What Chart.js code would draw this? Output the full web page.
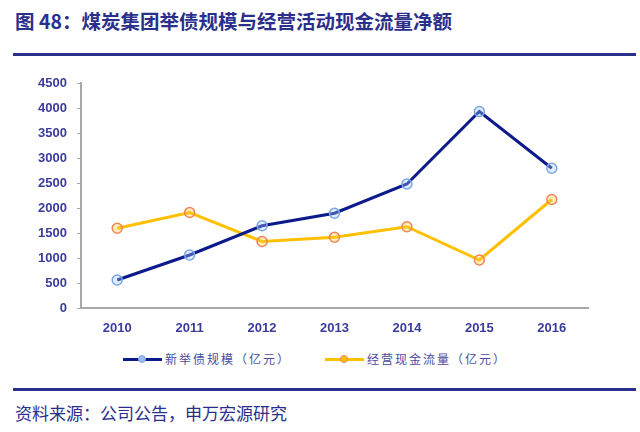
<!DOCTYPE html>
<html>
<head>
<meta charset="utf-8">
<script src="https://cdn.jsdelivr.net/npm/chart.js@4"></script>
<style>
  body { margin: 0; background: #fff; }
  #page { position: relative; width: 640px; height: 432px; overflow: hidden; }
  .title { position: absolute; left: 15px; top: 6px; font: bold 19.5px "Noto Sans CJK SC", sans-serif; color: #2b2f8c; white-space: nowrap; }
  .rule { position: absolute; left: 13px; width: 623px; height: 3px; background: #2b2f8c; }
  .src { position: absolute; left: 15px; top: 400px; font: 17px "Noto Sans CJK SC", serif; color: #2b2f8c; white-space: nowrap; }
  #wrap { position: absolute; left: 0; top: 60px; width: 640px; height: 290px; }
  .leg { position: absolute; top: 350px; font: 12px "Noto Sans CJK SC", serif; color: #4a4aa0; letter-spacing: 2px; white-space: nowrap; }
  .leg i { display: inline-block; position: relative; width: 39px; height: 3px; vertical-align: middle; margin-right: 3px; top: -1px; }
  .leg i span { position: absolute; left: 15px; top: -3px; width: 6px; height: 6px; border-radius: 50%; border: 1px solid; }
</style>
</head>
<body>
<div id="page">
  <div class="title">图 48：煤炭集团举债规模与经营活动现金流量净额</div>
  <div class="rule" style="top:53px"></div>
  <div id="wrap"><canvas id="c" width="640" height="290"></canvas></div>
  <div class="leg" style="left:123px"><i style="background:#0d1a8c"><span style="border-color:#7aa6e6;background:#9cbcf0"></span></i>新举债规模（亿元）</div>
  <div class="leg" style="left:325px"><i style="background:#ffc000"><span style="border-color:#f0855a;background:#ffc000"></span></i>经营现金流量（亿元）</div>
  <div class="rule" style="top:388px"></div>
  <div class="src">资料来源：公司公告，申万宏源研究</div>
</div>
<script>
let years = ["2010", "2011", "2012", "2013", "2014", "2015", "2016"];
let debt = [560, 1060, 1645, 1895, 2480, 3930, 2795];
let cashflow = [1595, 1910, 1330, 1415, 1625, 960, 2170];

let tickColor = "#3b3b9b";
let axisColor = "#a8a8a8";

new Chart(document.getElementById("c"), {
  type: "line",
  data: {
    labels: years,
    datasets: [
      {
        label: "新举债规模（亿元）",
        data: debt,
        borderColor: "#0d1a8c",
        borderWidth: 3,
        pointRadius: 5,
        pointBorderWidth: 1.5,
        pointBorderColor: "#7aa6e6",
        pointBackgroundColor: "rgba(170,200,245,0.35)",
        tension: 0
      },
      {
        label: "经营现金流量（亿元）",
        data: cashflow,
        borderColor: "#ffc000",
        borderWidth: 3,
        pointRadius: 5,
        pointBorderWidth: 1.5,
        pointBorderColor: "#f0855a",
        pointBackgroundColor: "rgba(255,200,60,0.35)",
        tension: 0
      }
    ]
  },
  options: {
    responsive: false,
    animation: false,
    layout: { padding: { top: 23, right: 52, left: 0, bottom: 0 } },
    plugins: { legend: { display: false }, tooltip: { enabled: false } },
    scales: {
      x: {
        offset: true,
        grid: { display: false },
        border: { color: axisColor, width: 2 },
        ticks: { color: tickColor, font: { family: "Arial", size: 13, weight: "bold" }, padding: 5 },
        afterFit: s => { s.height = 42; }
      },
      y: {
        min: 0,
        max: 4500,
        ticks: {
          stepSize: 500,
          color: tickColor,
          font: { family: "Arial", size: 13, weight: "bold" },
          padding: 10,
          callback: v => String(v)
        },
        grid: { drawOnChartArea: false, tickLength: 4, color: axisColor, lineWidth: 1 },
        border: { color: axisColor, width: 2 },
        afterFit: s => { s.width = 81; }
      }
    }
  }
});
</script>
</body>
</html>
